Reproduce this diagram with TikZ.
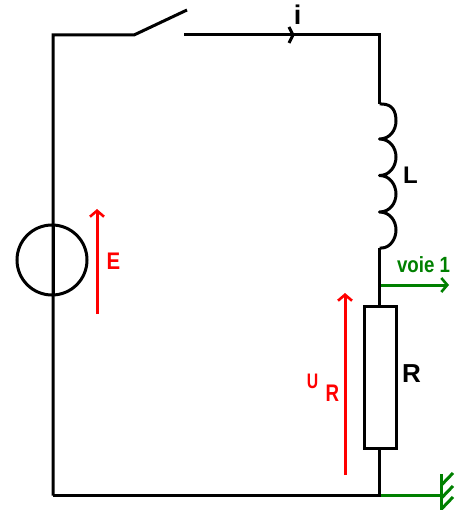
\documentclass[tikz,border=0pt]{standalone}
\usepackage{fontspec}
\setmainfont{Liberation Sans}
\usetikzlibrary{arrows.meta}
\definecolor{vert}{RGB}{0,128,0}
\tikzset{
  wire/.style={draw=black,line width=3pt,line cap=butt,line join=miter},
  barb/.style={-{Straight Barb[length=6pt,width=14pt,line width=2.6pt]}},
  redarrow/.style={draw=red,line width=3pt,barb},
  greenline/.style={draw=vert,line width=3pt},
  lab/.style={inner sep=0pt,font=\bfseries\fontsize{24pt}{24pt}\selectfont},
  redlab/.style={lab,text=red},
  source/.style={circle,draw=black,line width=3pt,minimum size=70pt,inner sep=0pt},
  resistor/.style={rectangle,draw=black,fill=white,line width=3pt,minimum width=32pt,minimum height=142pt,inner sep=0pt},
}
\begin{document}
\begin{tikzpicture}[x=1pt,y=-1pt]
\useasboundingbox (0,0) rectangle (461,510);
% named points
\coordinate (tl) at (53,35);
\coordinate (swa) at (134,35);
\coordinate (swb) at (187,10);
\coordinate (swc) at (184,35);
\coordinate (iarrow) at (293,35);
\coordinate (tr) at (379.5,35);
\coordinate (l0) at (379.5,104);
\coordinate (l1) at (379.5,139);
\coordinate (l2) at (379.5,175.5);
\coordinate (l3) at (379.5,212);
\coordinate (l4) at (379.5,248);
\coordinate (tap) at (379.5,285);
\coordinate (br) at (379.5,495.5);
\coordinate (bl) at (53,495.5);
\coordinate (voie) at (449,285);
\coordinate (gnd) at (441.5,495.5);
\coordinate (g1) at (441.5,474);
\coordinate (g2) at (441.5,510);
\coordinate (gt1a) at (441.5,485);
\coordinate (gt1b) at (453,473);
\coordinate (gt2a) at (441.5,498);
\coordinate (gt2b) at (453,486);
\coordinate (gt3a) at (441.5,509);
\coordinate (gt3b) at (453,497);
\coordinate (ea) at (97,314);
\coordinate (eb) at (97,209);
\coordinate (ua) at (345,475);
\coordinate (ub) at (345,293);
% wires
\draw[wire] (bl) -- (tl) -- (swa) -- (swb);
\draw[wire] (swc) -- (tr) -- (l0);
\draw[wire] (iarrow) ++(-4,-8) -- (iarrow) -- ++(-4,8);
\draw[wire,line join=round] (l0) -- ++(2,0)
  .. controls (393,104) and (396,112) .. (396,121)
  .. controls (396,130) and (390,139) .. (l1)
  .. controls (390,139) and (396,148) .. (396,157)
  .. controls (396,166) and (390,175.5) .. (l2)
  .. controls (390,175.5) and (396,185) .. (396,194)
  .. controls (396,203) and (390,212) .. (l3)
  .. controls (390,212) and (396,221) .. (396,230)
  .. controls (396,239) and (390,248) .. (381.5,248) -- (l4);
\draw[wire] (l4) -- (br) -- (bl);
% components
\node[source] (src) at (52,260) {};
\draw[wire] (53,225) -- (53,295);
\node[resistor] (res) at (380,377) {};
% green
\draw[greenline,barb] (tap) ++(1.5,0) -- (voie);
\draw[greenline] (br) ++(1.5,0) -- (gnd);
\draw[greenline] (g1) -- (g2);
\draw[greenline] (gt1a) -- (gt1b);
\draw[greenline] (gt2a) -- (gt2b);
\draw[greenline] (gt3a) -- (gt3b);
% red arrows
\draw[redarrow] (ea) -- (eb);
\draw[redarrow] (ua) -- (ub);
% labels
\node[lab,font=\bfseries\fontsize{27pt}{27pt}\selectfont] (li) at (297.5,15) {i};
\node[lab] (ll) at (410.5,175.5) {L};
\node[lab,font=\bfseries\fontsize{26pt}{26pt}\selectfont] (lr) at (411.5,373.5) {R};
\node[redlab] (le) at (113.5,261.5) {\scalebox{.85}[1]{E}};
\node[redlab,font=\bfseries\fontsize{21pt}{21pt}\selectfont] (lu) at (312.5,381.5) {\scalebox{.75}[1]{U}};
\node[redlab] (lrr) at (332.5,393) {\scalebox{.78}[1]{R}};
\node[lab,text=vert,font=\bfseries\fontsize{22pt}{22pt}\selectfont] (lv) at (423.5,265) {\scalebox{.85}[1]{voie 1}};
\end{tikzpicture}
\end{document}
